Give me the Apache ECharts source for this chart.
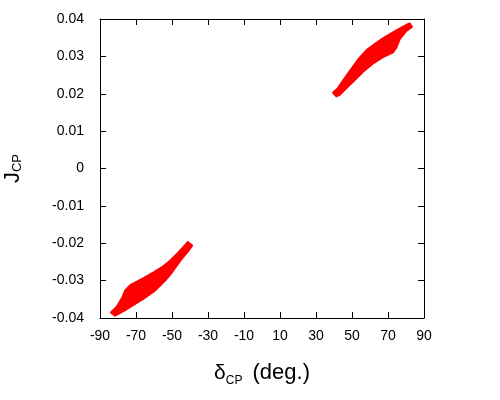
<!DOCTYPE html>
<html><head><meta charset="utf-8">
<script src="https://cdn.jsdelivr.net/npm/echarts@6/dist/echarts.min.js"></script>
<style>
html,body{margin:0;padding:0;background:#fff}
#wrap{position:relative;width:500px;height:400px}
#c{width:500px;height:400px}
#ylab{position:absolute;left:0;top:150px;white-space:nowrap;
  font-family:'Liberation Sans';font-size:22px;color:#000;line-height:24px}
#ylab.sw{writing-mode:sideways-lr}
#ylab.rot{transform-origin:0 0;transform:rotate(-90deg)}
#ylab sub{font-size:13px;vertical-align:-2px;line-height:0;margin-left:3px}
</style>
</head><body><div id="wrap"><div id="c"></div><div id="ylab">J<sub>CP</sub></div></div>
<script>
// Axis ticks
var xTicks = [-90, -70, -50, -30, -10, 10, 30, 50, 70, 90];
var yTicks = [-0.04, -0.03, -0.02, -0.01, 0, 0.01, 0.02, 0.03, 0.04];

// Region 1 (negative delta) boundary, traced around the polygon
var lowX = [-83.9, -80.7, -77.9, -76.0, -73.2, -69.5, -65.8, -60.2, -55.5, -50.9, -46.3, -42.5, -41.2, -38.8,
            -40.7, -45.3, -49.9, -53.7, -59.3, -65.8, -71.4, -76.0, -79.8, -81.6];
var lowY = [-0.0385, -0.0370, -0.0348, -0.0326, -0.0312, -0.0303, -0.0293, -0.0278, -0.0264, -0.0246, -0.0224, -0.0204, -0.0197, -0.0206,
            -0.0219, -0.0246, -0.0277, -0.0299, -0.0326, -0.0348, -0.0365, -0.0379, -0.0389, -0.0394];

// Region 2 (positive delta) boundary
var highX = [39.4, 42.2, 45.9, 49.7, 53.3, 58.0, 62.6, 67.2, 72.8, 77.4, 81.1, 82.1, 83.3,
             80.2, 76.5, 74.7, 72.8, 67.2, 61.7, 56.1, 51.5, 46.9, 43.2, 41.3];
var highY = [0.0203, 0.0215, 0.0241, 0.0267, 0.0291, 0.0316, 0.0333, 0.0348, 0.0364, 0.0377, 0.0386, 0.0388, 0.0379,
             0.0368, 0.0346, 0.0324, 0.0311, 0.0298, 0.0281, 0.0259, 0.0237, 0.0215, 0.0197, 0.0193];

function poly(xs, ys) { return xs.map(function (x, i) { return [x, ys[i]]; }); }
var regions = [poly(lowX, lowY), poly(highX, highY)];

// rotated y-axis title (reads bottom to top)
(function () {
  var el = document.getElementById('ylab');
  var supported = window.CSS && CSS.supports && CSS.supports('writing-mode', 'sideways-lr');
  if (supported) {
    el.className = 'sw';
    el.style.top = (168 - el.offsetHeight / 2) + 'px';
  } else {
    el.className = 'rot';
    var w = el.offsetWidth;
    el.style.left = '0px';
    el.style.top = (168 + w / 2) + 'px';
  }
})();

var FONT = 'Liberation Sans';
var chart = echarts.init(document.getElementById('c'), null, {renderer: 'canvas'});

function renderPoly(params, api) {
  var pts = regions[params.dataIndex].map(function (p) { return api.coord(p); });
  return {type: 'polygon', shape: {points: pts}, style: {fill: '#ff0000', stroke: '#ff0000', lineWidth: 2, lineJoin: 'round'}};
}

var axisLine = {show: true, onZero: false, lineStyle: {color: '#000', width: 1}};
var tick = {show: true, inside: true, length: 6, lineStyle: {color: '#000', width: 1}};

chart.setOption({
  animation: false,
  backgroundColor: '#fff',
  grid: {left: 100, right: 76, top: 19, bottom: 82, containLabel: false, outerBoundsMode: 'none'},
  xAxis: [{
    type: 'value', min: xTicks[0], max: xTicks[xTicks.length - 1], interval: xTicks[1] - xTicks[0],
    position: 'bottom', splitLine: {show: false}, axisLine: axisLine, axisTick: tick,
    axisLabel: {fontFamily: FONT, fontSize: 14, color: '#000', margin: 11},
    name: '{d|δ}{s|CP}{n| (deg.)}', nameLocation: 'middle', nameGap: 41,
    nameTextStyle: {
      fontFamily: FONT, color: '#000',
      rich: {
        d: {fontFamily: FONT, fontSize: 21, lineHeight: 28, verticalAlign: 'middle', color: '#000'},
        s: {fontFamily: FONT, fontSize: 12, lineHeight: 21, verticalAlign: 'bottom', color: '#000'},
        n: {fontFamily: FONT, fontSize: 22, lineHeight: 28, verticalAlign: 'middle', color: '#000', padding: [0, 0, 0, 4]}
      }
    }
  }, {
    type: 'value', min: xTicks[0], max: xTicks[xTicks.length - 1], interval: xTicks[1] - xTicks[0],
    position: 'top', splitLine: {show: false}, axisLine: axisLine, axisTick: tick, axisLabel: {show: false}
  }],
  yAxis: [{
    type: 'value', min: yTicks[0], max: yTicks[yTicks.length - 1], interval: 0.01,
    position: 'left', splitLine: {show: false}, axisLine: axisLine, axisTick: tick,
    axisLabel: {fontFamily: FONT, fontSize: 14, color: '#000', margin: 16}
  }, {
    type: 'value', min: yTicks[0], max: yTicks[yTicks.length - 1], interval: 0.01,
    position: 'right', splitLine: {show: false}, axisLine: axisLine, axisTick: tick, axisLabel: {show: false}
  }],
  series: [{
    type: 'custom', xAxisIndex: 0, yAxisIndex: 0, renderItem: renderPoly,
    data: [0, 1], clip: true, silent: true
  }]
});
</script></body></html>
